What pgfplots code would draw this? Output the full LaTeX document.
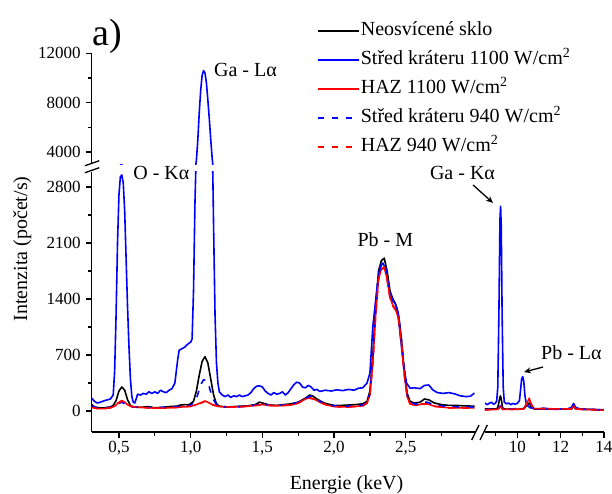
\documentclass[border=0pt]{standalone}
\usepackage{fontspec}
\setmainfont{Liberation Serif}
\usepackage{pgfplots}
\usepackage{pgfplotstable}
\usetikzlibrary{arrows.meta}
\pgfplotsset{compat=1.18}

\pgfplotstableread{
x y
0.31 160
0.33 120
0.35 100
0.37 110
0.40 130
0.42 140
0.44 150
0.46 200
0.47 500
0.48 1200
0.49 2100
0.50 2700
0.51 2930
0.52 2950
0.53 2850
0.54 2500
0.55 1900
0.56 1300
0.57 800
0.58 400
0.59 180
0.60 110
0.61 100
0.62 150
0.63 210
0.65 200
0.67 220
0.69 210
0.71 240
0.73 220
0.75 240
0.77 220
0.79 260
0.81 240
0.83 230
0.85 260
0.87 280
0.89 350
0.90 500
0.91 650
0.92 760
0.94 780
0.96 800
0.97 820
0.99 850
1.00 860
1.01 900
1.02 1500
1.03 2600
1.04 3300
1.05 5000
1.06 7200
1.07 9000
1.08 10200
1.09 10600
1.10 10400
1.11 9600
1.12 8200
1.13 6700
1.14 5000
1.15 3500
1.16 2300
1.17 1200
1.18 600
1.19 350
1.20 240
1.22 200
1.24 180
1.26 200
1.28 170
1.30 190
1.32 180
1.34 200
1.36 180
1.38 190
1.40 200
1.42 230
1.44 280
1.46 310
1.48 315
1.50 300
1.52 250
1.54 220
1.56 200
1.58 230
1.60 210
1.62 220
1.64 240
1.66 200
1.68 230
1.70 280
1.72 330
1.74 360
1.76 350
1.78 300
1.80 290
1.82 320
1.84 300
1.86 260
1.88 270
1.90 245
1.94 260
1.98 250
2.02 265
2.06 255
2.10 270
2.14 260
2.17 285
2.20 290
2.23 350
2.25 475
2.27 1050
2.30 1550
2.32 1800
2.34 1850
2.36 1780
2.38 1550
2.40 1390
2.425 1350
2.445 1225
2.46 975
2.48 640
2.505 350
2.53 285
2.56 290
2.60 280
2.63 320
2.66 325
2.69 262
2.72 230
2.76 220
2.80 230
2.84 215
2.88 190
2.92 180
2.95 185
2.98 225
}\blueL

\pgfplotstableread{
x y
0.31 80
0.33 50
0.36 40
0.40 40
0.44 50
0.46 70
0.48 130
0.50 250
0.52 300
0.54 260
0.56 140
0.58 70
0.60 50
0.65 45
0.70 55
0.75 40
0.80 45
0.85 55
0.90 60
0.93 75
0.96 80
0.99 80
1.02 120
1.04 250
1.06 450
1.08 620
1.10 680
1.12 600
1.14 400
1.16 200
1.18 90
1.20 60
1.25 50
1.30 55
1.35 60
1.40 65
1.45 80
1.48 110
1.50 100
1.55 75
1.60 70
1.65 80
1.70 90
1.75 110
1.80 160
1.83 200
1.85 190
1.88 150
1.92 110
1.95 90
2.00 70
2.05 70
2.10 75
2.15 80
2.20 90
2.23 120
2.25 250
2.27 700
2.29 1300
2.31 1750
2.33 1880
2.35 1910
2.37 1750
2.39 1500
2.41 1400
2.43 1330
2.45 1200
2.47 900
2.49 500
2.51 220
2.53 120
2.56 100
2.60 110
2.63 150
2.66 140
2.70 100
2.75 80
2.80 70
2.85 70
2.90 65
2.98 60
}\blackL

\pgfplotstableread{
x y
0.31 50
0.35 30
0.40 30
0.44 40
0.47 60
0.50 110
0.52 130
0.54 110
0.56 80
0.58 60
0.62 50
0.70 40
0.80 35
0.90 45
1.00 60
1.04 80
1.08 110
1.10 125
1.12 110
1.15 80
1.20 55
1.30 50
1.40 60
1.50 80
1.55 70
1.60 65
1.70 75
1.75 100
1.80 150
1.83 165
1.86 150
1.90 110
1.95 75
2.00 55
2.10 50
2.20 65
2.23 100
2.25 200
2.27 600
2.29 1200
2.31 1650
2.33 1780
2.35 1800
2.37 1650
2.39 1420
2.41 1320
2.43 1270
2.45 1150
2.47 850
2.49 450
2.51 180
2.53 90
2.57 70
2.62 90
2.65 90
2.70 60
2.80 40
2.90 40
2.98 40
}\redL

\pgfplotstableread{
x y
0.31 60
0.35 40
0.40 40
0.45 50
0.48 80
0.52 110
0.56 70
0.60 50
0.70 45
0.80 45
0.90 55
1.00 70
1.04 150
1.07 330
1.09 390
1.11 380
1.13 300
1.15 170
1.18 80
1.20 55
1.30 50
1.40 60
1.50 90
1.55 70
1.60 70
1.70 80
1.75 110
1.80 160
1.84 190
1.87 160
1.92 100
2.00 65
2.10 60
2.20 75
2.23 110
2.25 220
2.27 650
2.29 1250
2.31 1700
2.33 1830
2.35 1840
2.37 1700
2.39 1480
2.41 1380
2.43 1340
2.45 1200
2.47 880
2.49 480
2.51 200
2.53 110
2.57 85
2.62 110
2.65 110
2.70 75
2.80 55
2.90 50
2.98 50
}\blueDL

\pgfplotstableread{
x y
0.31 45
0.35 30
0.40 32
0.44 40
0.47 62
0.50 105
0.52 125
0.54 108
0.56 80
0.58 58
0.62 48
0.70 40
0.80 36
0.90 44
1.00 58
1.04 78
1.08 105
1.10 120
1.12 108
1.15 78
1.20 55
1.30 50
1.40 58
1.50 78
1.55 70
1.60 64
1.70 74
1.75 98
1.80 148
1.83 160
1.86 148
1.90 108
1.95 74
2.00 55
2.10 50
2.20 64
2.23 98
2.25 195
2.27 590
2.29 1190
2.31 1640
2.33 1770
2.35 1790
2.37 1640
2.39 1410
2.41 1310
2.43 1260
2.45 1140
2.47 840
2.49 440
2.51 175
2.53 88
2.57 68
2.62 88
2.65 88
2.70 58
2.80 40
2.90 38
2.98 38
}\redDL

\pgfplotstableread{
x y
8.5 100
8.6 80
8.7 95
8.8 110
8.9 85
9.0 100
9.05 130
9.1 300
9.15 1200
9.2 2400
9.23 2560
9.26 2300
9.3 1200
9.35 300
9.4 110
9.5 90
9.6 100
9.7 80
9.8 95
9.9 85
10.0 95
10.1 130
10.15 260
10.2 400
10.25 430
10.3 370
10.35 200
10.4 110
10.5 60
10.6 40
10.8 30
11.0 25
11.2 35
11.5 25
11.8 20
12.0 25
12.3 25
12.5 45
12.6 95
12.7 45
12.9 25
13.2 20
13.5 20
13.8 15
14.0 15
}\blueR

\pgfplotstableread{
x y
8.5 25
9.0 25
9.1 40
9.18 150
9.22 190
9.26 150
9.32 40
9.4 25
10.0 20
10.3 30
10.45 70
10.55 100
10.65 50
10.8 25
12.5 25
12.6 60
12.7 25
14.0 15
}\blackR

\pgfplotstableread{
x y
8.5 15
9.1 20
9.2 50
9.25 55
9.32 20
10.3 25
10.45 100
10.55 160
10.62 100
10.75 30
12.5 25
12.6 70
12.7 25
14.0 10
}\redR

\pgfplotstableread{
x y
8.5 20
9.1 25
9.2 60
9.25 65
9.32 25
10.3 30
10.45 95
10.55 140
10.62 90
10.75 30
12.5 25
12.6 65
12.7 25
14.0 12
}\blueDR

\pgfplotstableread{
x y
8.5 15
9.1 20
9.2 48
9.25 52
9.32 20
10.3 25
10.45 98
10.55 155
10.62 98
10.75 30
12.5 25
12.6 68
12.7 25
14.0 10
}\redDR

\pgfplotsset{
  base/.style={
    scale only axis,
    clip mode=individual,
    tick align=outside,
    major tick length=6pt,
    minor tick length=3.5pt,
    tick style={black, line width=1.2pt},
    axis line style={line width=1.5pt, -},
    scaled ticks=false,
    /pgf/number format/assume math mode=true,
    /pgf/number format/1000 sep={},
    tick label style={font=\fontsize{17}{20}\selectfont},
    yticklabel style={xshift=-1.5pt},
    every axis plot/.append style={line width=1.6pt, line join=round},
  },
  blk/.style={black},
  blu/.style={blue},
  rd/.style={red},
  bluD/.style={blue, dash pattern=on 6.5pt off 7.5pt},
  rdD/.style={red, dash pattern=on 6.5pt off 7.5pt},
}

\begin{document}
\begin{tikzpicture}
\path[use as bounding box] (0pt,0pt) rectangle (612pt,-493pt);

% lower left
\begin{axis}[base, at={(91.7pt,-432pt)}, anchor=south west,
  width=382.9pt, height=260.2pt,
  xmin=0.31, xmax=2.98, ymin=-262.5, ymax=2990,
  axis x line*=bottom, axis y line*=left,
  xtick={0.5,1,1.5,2,2.5}, minor xtick={0.75,1.25,1.75,2.25,2.75},
  xticklabels={{0,5},{1,0},{1,5},{2,0},{2,5}},
  ytick={0,700,1400,2100,2800}, minor ytick={350,1050,1750,2450},
  legend image code/.code={\draw[#1] (0pt,0pt) -- (41pt,0pt);},
  legend style={draw=none, fill=none, at={(0.588,1.585)}, anchor=north west,
    inner sep=0pt, row sep=7pt, column sep=0pt,
    font=\fontsize{20}{24}\selectfont,
    nodes={inner xsep=1.2pt, inner ysep=2pt, text height=14pt, text depth=4pt}},
  legend cell align=left,
]
\addplot[blk] table {\blackL};
\addlegendentry{Neosvícené sklo}
\addplot[blu] table {\blueL};
\addlegendentry{Střed kráteru 1100 W/cm\textsuperscript{2}}
\addplot[rd] table {\redL};
\addlegendentry{HAZ 1100 W/cm\textsuperscript{2}}
\addplot[bluD] table {\blueDL};
\addlegendentry{Střed kráteru 940 W/cm\textsuperscript{2}}
\addplot[rdD] table {\redDL};
\addlegendentry{HAZ 940 W/cm\textsuperscript{2}}
\node[font=\fontsize{20}{24}\selectfont] at (axis cs:0.796,2975) {O - Kα};
\node[font=\fontsize{20}{24}\selectfont] at (axis cs:2.358,2137) {Pb - M};
\end{axis}

% upper left
\begin{axis}[base, at={(91.7pt,-164pt)}, anchor=south west,
  width=382.9pt, height=110.7pt,
  xmin=0.31, xmax=2.98, ymin=3020, ymax=12000,
  axis x line=none, axis y line*=left,
  ytick={4000,8000,12000}, minor ytick={6000,10000},
]
\addplot[blu] table {\blueL};
\node[font=\fontsize{20}{24}\selectfont] at (axis cs:1.382,10637) {Ga - Lα};
\end{axis}

% lower right
\begin{axis}[base, at={(484.8pt,-432pt)}, anchor=south west,
  width=119.1pt, height=260.2pt,
  xmin=8.5, xmax=14, ymin=-262.5, ymax=2990,
  axis x line*=bottom, axis y line=none,
  xtick={10,12,14}, minor xtick={9,11,13},
]
\addplot[blk] table {\blackR};
\addplot[blu] table {\blueR};
\addplot[rd] table {\redR};
\addplot[bluD] table {\blueDR};
\addplot[rdD] table {\redDR};
\node[font=\fontsize{20}{24}\selectfont] at (axis cs:7.47,2975) {Ga - Kα};
\draw[-{Stealth[length=7pt,width=6pt]}, line width=1.3pt] (axis cs:7.96,2825) -- (axis cs:8.88,2600);
\node[font=\fontsize{20}{24}\selectfont] at (axis cs:12.5,725) {Pb - Lα};
\draw[-{Stealth[length=7pt,width=6pt]}, line width=1.3pt] (axis cs:11.19,550) -- (axis cs:10.31,487);
\end{axis}

% axis breaks
\draw[line width=1.3pt] (85pt,-165.7pt) -- (99.3pt,-160.7pt);
\draw[line width=1.3pt] (85pt,-172.7pt) -- (99.3pt,-167.7pt);
\draw[line width=1.3pt] (471.7pt,-440pt) -- (479pt,-425pt);
\draw[line width=1.3pt] (480pt,-440pt) -- (487.3pt,-425pt);

% labels
\node[anchor=base west, font=\fontsize{38}{40}\selectfont, inner sep=0pt] at (92pt,-45pt) {a)};
\node[anchor=base, font=\fontsize{20}{24}\selectfont, inner sep=0pt] at (346.5pt,-489pt) {Energie (keV)};
\node[anchor=base, rotate=90, font=\fontsize{20}{24}\selectfont, inner sep=0pt] at (27pt,-249pt) {Intenzita (počet/s)};
\end{tikzpicture}
\end{document}
